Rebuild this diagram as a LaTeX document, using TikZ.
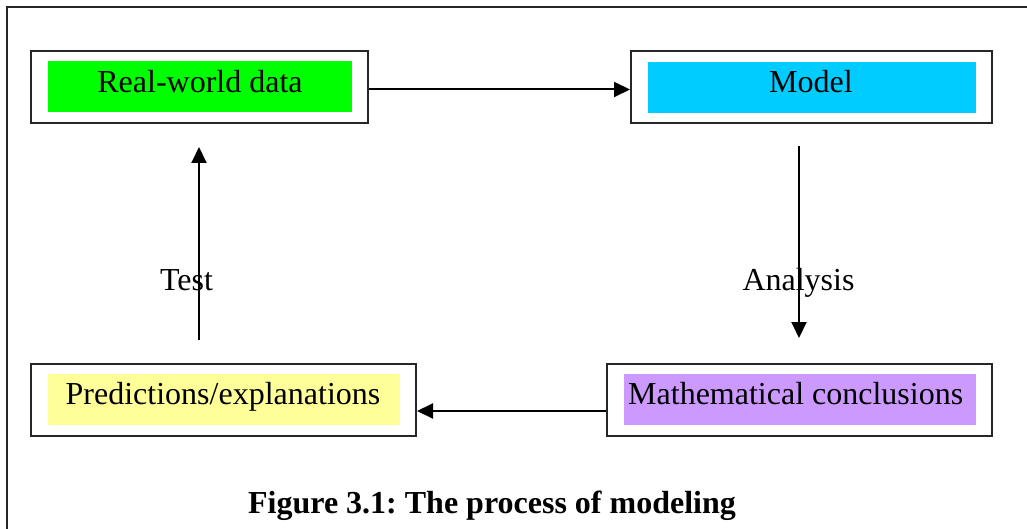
\documentclass[tikz,border=0pt]{standalone}
\usepackage{fontspec}
\setmainfont{Liberation Serif}
\usetikzlibrary{arrows.meta}
\definecolor{rwgreen}{HTML}{00FF00}
\definecolor{mdcyan}{HTML}{00CCFF}
\definecolor{prdyellow}{HTML}{FFFF99}
\definecolor{mthpurple}{HTML}{CC99FF}
\frenchspacing
\begin{document}
\begin{tikzpicture}[x=1pt,y=-1pt,
  frame/.style={draw=black!85, line width=2pt, minimum width=#1, minimum height=72pt, inner sep=0pt},
  panel/.style={minimum width=#1, minimum height=51pt, inner sep=0pt, draw=none},
  label/.style={inner sep=0pt, anchor=base, font=\fontsize{32}{38}\selectfont},
  arr/.style={line width=2pt, -{Triangle[length=16pt,width=15pt]}}
]
\useasboundingbox (0,0) rectangle (1027,529);
% page frame, open on the right and at the bottom
\draw[line width=2pt, black!85] (7,540) -- (7,7) -- (1040,7);

% outer boxes
\node[frame=337pt] (rw) at (199.5,87) {};
\node[frame=361pt] (model) at (811.5,87) {};
\node[frame=385pt] (pred) at (223.5,399.5) {};
\node[frame=385pt] (math) at (799.5,399.5) {};

% coloured panels
\node[panel=304pt, fill=rwgreen] (rwp) at (200,87) {};
\node[panel=328pt, fill=mdcyan] (modelp) at (812,87.5) {};
\node[panel=352pt, fill=prdyellow] (predp) at (224,399.5) {};
\node[panel=352pt, fill=mthpurple] (mathp) at (800,399.5) {};

% texts
\node[label] (rwt) at (200,93) {Real-world data};
\node[label] (modelt) at (811,93) {Model};
\node[label] (predt) at (223,404) {Predictions/explanations};
\node[label, anchor=base west] (matht) at (628,404) {Mathematical conclusions};

% cycle arrows
\coordinate (testfrom) at (199,340);
\coordinate (testto) at (199,147);
\coordinate (anfrom) at (799,146);
\coordinate (anto) at (799,338);
\draw[arr] ([yshift=-2.5pt]rw.east) -- ([yshift=-2.5pt]model.west);
\draw[arr] (anfrom) -- (anto);
\draw[arr] ([yshift=-11.5pt]math.west) -- ([yshift=-11.5pt]pred.east);
\draw[arr] (testfrom) -- (testto);

\node[label] (testl) at (186.5,290) {Test};
\node[label] (anl) at (798.5,290) {Analysis};

% caption
\node[label, font=\fontsize{32}{38}\selectfont\bfseries] (cap) at (492,513) {Figure 3.1: The process of modeling};
\end{tikzpicture}
\end{document}
